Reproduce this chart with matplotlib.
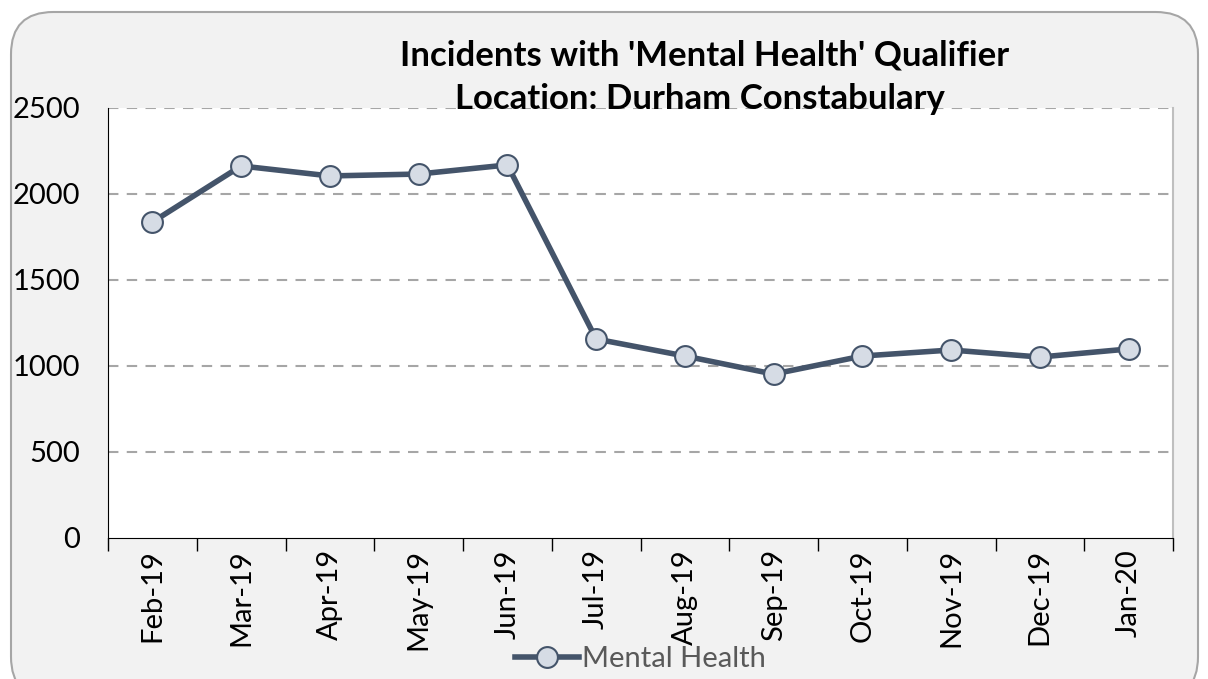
# Mental health incidents line chart
import matplotlib
matplotlib.use("Agg")
from matplotlib import pyplot as plt
from matplotlib.patches import FancyBboxPatch

months = ["Feb-19", "Mar-19", "Apr-19", "May-19", "Jun-19", "Jul-19",
          "Aug-19", "Sep-19", "Oct-19", "Nov-19", "Dec-19", "Jan-20"]
incidents = [1837, 2163, 2105, 2116, 2169, 1157, 1058, 953, 1058, 1093, 1052, 1099]
y_ticks = [0, 500, 1000, 1500, 2000, 2500]

plt.rcParams['font.family'] = ['Lato', 'DejaVu Sans']

W, H = 1208, 679
fig = plt.figure(figsize=(W / 100, H / 100), dpi=100)
fig.patch.set_facecolor("white")

# rounded chart frame
frame = FancyBboxPatch((11 / W, -20 / H), 1187 / W, (H - 12 + 20) / H,
                       boxstyle="round,pad=0,rounding_size=0.035",
                       transform=fig.transFigure, facecolor="#f2f2f2",
                       edgecolor="#a6a6a6", linewidth=1.5, mutation_aspect=W / H,
                       zorder=-5)
fig.patches.append(frame)

ax = fig.add_axes([108 / W, 1 - 538 / H, (1173 - 108) / W, (538 - 108) / H])
ax.set_facecolor("white")

x = range(len(months))
ax.plot(x, incidents, color="#44546a", linewidth=4, marker="o", markersize=15,
        markerfacecolor="#d6dce5", markeredgecolor="#44546a", markeredgewidth=1.5,
        label="Mental Health", zorder=3)

ax.set_xlim(-0.5, len(months) - 0.5)
ax.set_ylim(0, 2500)
ax.set_yticks(y_ticks)
ax.set_yticklabels([str(v) for v in y_ticks], fontsize=21)
ax.set_xticks(x)
ax.set_xticklabels(months, rotation=90, fontsize=21)
ax.set_xticks([i - 0.5 for i in range(len(months) + 1)], minor=True)
ax.tick_params(axis="x", which="major", length=0, pad=8)
ax.tick_params(axis="x", which="minor", length=9, width=1, color="black", direction="out")
ax.tick_params(axis="y", length=0, pad=20)

for v in y_ticks[1:]:
    ax.axhline(v, color="#a6a6a6", linestyle=(0, (5, 4)), linewidth=1.5, zorder=1)

ax.spines["left"].set_color("black")
ax.spines["bottom"].set_color("black")
ax.spines["top"].set_visible(False)
ax.spines["right"].set_color("#bfbfbf")
ax.spines["right"].set_linewidth(1.5)

fig.text(705 / W, 1 - 55 / H, "Incidents with 'Mental Health' Qualifier",
         ha="center", va="center", fontsize=25, fontweight="bold")
fig.text(700 / W, 1 - 99 / H, "Location: Durham Constabulary",
         ha="center", va="center", fontsize=25, fontweight="bold", zorder=5)

leg = fig.legend(loc="center", bbox_to_anchor=(640 / W, 1 - 659 / H), frameon=False,
                 fontsize=21, handlelength=2.2, handletextpad=0.1, labelcolor="#595959")

plt.savefig("out.png", dpi=100, facecolor=fig.get_facecolor())
